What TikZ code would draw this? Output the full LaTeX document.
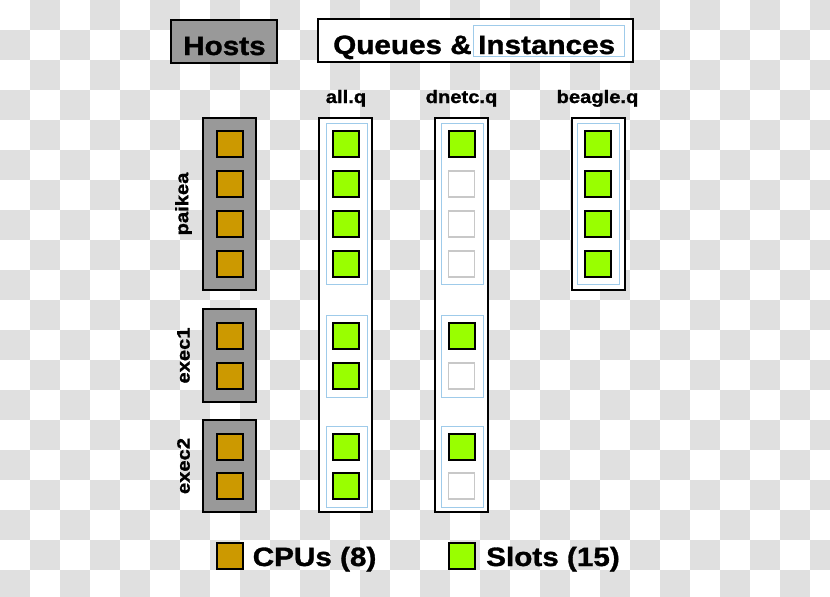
\documentclass[tikz,border=0pt]{standalone}
\usepackage{fontspec}
\setmainfont{Liberation Sans}[FakeStretch=1.12, BoldFeatures={FakeBold=1.2}]
\definecolor{cpuorange}{HTML}{CC9900}
\definecolor{slotgreen}{HTML}{99FF00}
\definecolor{hostgray}{HTML}{999999}
\definecolor{grpblue}{HTML}{9FCBEA}
\definecolor{freegray}{HTML}{C8C8C8}
\definecolor{checker}{HTML}{E0E0E0}
\tikzset{
 hostbox/.style={draw, line width=2pt, fill=hostgray, inner sep=0, minimum width=53pt},
 qbox/.style={draw, line width=2pt, fill=white, inner sep=0, minimum width=53pt},
 grp/.style={draw=grpblue, line width=1pt, fill=white, inner sep=0, minimum width=41pt},
 cpu/.style={draw, line width=2pt, fill=cpuorange, minimum size=26pt, inner sep=0},
 slot/.style={draw, line width=2pt, fill=slotgreen, minimum size=26pt, inner sep=0},
 freeslot/.style={draw=freegray, line width=1.6pt, fill=white, minimum size=26pt, inner sep=0},
 hdr/.style={font=\fontsize{26.5}{30}\selectfont\bfseries, inner sep=0, anchor=base west},
 lbl/.style={font=\fontsize{18}{20}\selectfont\bfseries, inner sep=0},
}
\begin{document}
\begin{tikzpicture}[x=1pt,y=-1pt]
\useasboundingbox (0,0) rectangle (830,597);
% checkerboard background
\begin{scope}
\clip (0,0) rectangle (830,597);
\fill[white] (0,0) rectangle (830,597);
\foreach \j in {0,...,19}{
  \foreach \i in {0,...,27}{
    \pgfmathtruncatemacro\p{mod(\i+\j,2)}
    \ifnum\p=1 \fill[checker] (\i*30,\j*30) rectangle ++(30,30);\fi
  }
}
\end{scope}
% headers
\node[draw, line width=2pt, fill=hostgray, minimum width=106pt, minimum height=43pt, inner sep=0] (hostshdr) at (224,41.5) {};
\node[hdr] (hoststxt) at (183,55) {Hosts};
\node[draw, line width=2pt, fill=white, minimum width=315pt, minimum height=43pt, inner sep=0] (queueshdr) at (475.5,40.5) {};
\node[draw=grpblue, line width=1pt, minimum width=151pt, minimum height=31pt, inner sep=0] (instbox) at (548.5,40.5) {};
\node[hdr] (queuestxt) at (333,54) {Queues \&};
\node[hdr] (insttxt) at (478,54) {Instances};
% column labels
\node[lbl, anchor=base] (lallq) at (346,103) {all.q};
\node[lbl, anchor=base] (ldnetc) at (461.5,103) {dnetc.q};
\node[lbl, anchor=base] (lbeagle) at (597.5,103) {beagle.q};
% hosts
\node[hostbox, minimum height=172pt] (paikea) at (229.5,204) {};
\node[hostbox, minimum height=93pt] (exec1) at (229.5,355.5) {};
\node[hostbox, minimum height=92pt] (exec2) at (229.5,466) {};
\node[lbl, rotate=90] (lpaikea) at (183.5,204) {paikea};
\node[lbl, rotate=90] (lexec1) at (183.5,355.5) {exec1};
\node[lbl, rotate=90] (lexec2) at (183.5,466) {exec2};
\foreach \y [count=\k] in {144,184,224,264} \node[cpu] (pc\k) at (230,\y) {};
\foreach \y [count=\k] in {336,376} \node[cpu] (eac\k) at (230,\y) {};
\foreach \y [count=\k] in {447,486} \node[cpu] (ebc\k) at (230,\y) {};
% queues
\node[qbox, minimum height=394pt] (allq) at (345.5,315) {};
\node[qbox, minimum height=394pt] (dnetcq) at (461.5,315) {};
\node[qbox, minimum height=172pt] (beagleq) at (598,204) {};
% queue instances
\node[grp, minimum height=161pt] (ap) at (346.5,203.5) {};
\node[grp, minimum height=82pt] (ae1) at (346.5,356) {};
\node[grp, minimum height=81pt] (ae2) at (346.5,466.5) {};
\node[grp, minimum width=42pt, minimum height=161pt] (dp) at (462,203.5) {};
\node[grp, minimum width=42pt, minimum height=82pt] (de1) at (462,356) {};
\node[grp, minimum width=42pt, minimum height=81pt] (de2) at (462,466.5) {};
\node[grp, minimum width=42pt, minimum height=161pt] (bp) at (598,203.5) {};
% slots
\foreach \y [count=\k] in {144,184,224,264,336,376,447,486} \node[slot] (as\k) at (346,\y) {};
\foreach \y [count=\k] in {144,336,447} \node[slot] (ds\k) at (461.5,\y) {};
\foreach \y [count=\k] in {184,224,264,376,486} \node[freeslot] (df\k) at (461.5,\y) {};
\foreach \y [count=\k] in {144,184,224,264} \node[slot] (bs\k) at (597.5,\y) {};
% legend
\node[cpu] (legcpu) at (229.5,556) {};
\node[hdr] (legcputxt) at (252.5,566) {CPUs (8)};
\node[slot] (legslot) at (461.5,556) {};
\node[hdr] (legslottxt) at (486,566) {Slots (15)};
\end{tikzpicture}
\end{document}
